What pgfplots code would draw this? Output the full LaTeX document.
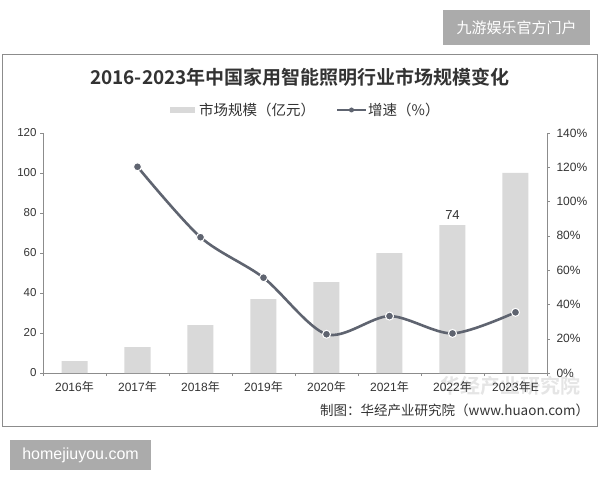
\documentclass[border=0pt]{standalone}
\usepackage{pgfplots}
\pgfplotsset{compat=1.18}
\usepackage{fontspec}
\setmainfont{Liberation Sans}
\newfontfamily\cjk{Noto Sans CJK SC}
\newfontfamily\cjkbold{Noto Sans CJK SC Bold}
\definecolor{barc}{HTML}{D9D9D9}
\definecolor{linec}{HTML}{5F6470}
\definecolor{axc}{HTML}{8C8C8C}
\definecolor{txt}{HTML}{333333}
\begin{document}
\begin{tikzpicture}[x=1pt,y=1pt]
\useasboundingbox (0,0) rectangle (600,480);
\fill[white] (0,0) rectangle (600,480);
% frame
\draw[black!45, line width=1pt] (2,54) rectangle (597,425);
% top-right badge
\fill[black!33] (443,435) rectangle (590,470);
\node[white] at (516.5,452.5) {\cjk\fontsize{15}{15}\selectfont 九游娱乐官方门户};
% bottom-left badge
\fill[black!33] (10,10) rectangle (151,40);
\node[white] at (80.5,25) {\fontsize{16}{16}\selectfont homejiuyou.com};
% title
\node[txt] at (300,403) {\cjkbold\fontsize{19}{19}\selectfont 2016-2023年中国家用智能照明行业市场规模变化};
% legend
\fill[barc] (170,367) rectangle (195,373);
\node[anchor=west, txt, inner sep=0] at (199,370) {\cjk\fontsize{14.5}{14.5}\selectfont 市场规模（亿元）};
\draw[linec, line width=2pt] (337,370) -- (366,370);
\fill[linec] (351.5,370) circle (2.5);
\node[anchor=west, txt, inner sep=0] at (368,370) {\cjk\fontsize{14.5}{14.5}\selectfont 增速（\%）};
% faint watermark
\node[black!10] at (510,94) {\cjkbold\fontsize{20}{20}\selectfont 华经产业研究院};
% footer
\node[anchor=west, txt, inner sep=0] at (320,70) {\cjk\fontsize{13.5}{13.5}\selectfont 制图：华经产业研究院（www.huaon.com）};

\begin{axis}[
  at={(43pt,107pt)}, anchor=south west,
  scale only axis, width=504pt, height=240pt,
  xmin=-0.5, xmax=7.5, ymin=0, ymax=120,
  axis y line*=left, axis x line*=bottom,
  axis line style={axc, line width=0.8pt},
  ytick={0,20,...,120},
  xtick={0,...,7},
  xticklabels={{2016\cjk 年},{2017\cjk 年},{2018\cjk 年},{2019\cjk 年},{2020\cjk 年},{2021\cjk 年},{2022\cjk 年},{2023\cjk 年\normalfont E}},
  major x tick style={draw=none},
  minor xtick={-0.5,0.5,...,7.5},
  minor x tick style={axc},
  tick align=outside,
  major tick length=3pt, minor tick length=3pt,
  y tick style={axc},
  tick label style={txt, font=\fontsize{11.5}{12}\selectfont},
  xticklabel style={font=\fontsize{12}{12}\selectfont, yshift=-2pt},
  /pgf/number format/assume math mode=true,
  ybar, bar width=26pt,
  clip=false,
]
\addplot[fill=barc, draw=none] coordinates {(0,6) (1,13) (2,24) (3,37) (4,45.5) (5,60) (6,74) (7,100)};
\node[txt, above, font=\fontsize{13}{13}\selectfont] at (axis cs:6,75) {74};
\end{axis}

\begin{axis}[
  at={(43pt,107pt)}, anchor=south west,
  scale only axis, width=504pt, height=240pt,
  xmin=-0.5, xmax=7.5, ymin=0, ymax=140,
  axis y line*=right, axis x line=none,
  axis line style={axc, line width=0.8pt},
  ytick={0,20,...,140},
  yticklabel={\pgfmathprintnumber{\tick}\%},
  tick align=outside, major tick length=3pt,
  y tick style={axc},
  tick label style={txt, font=\fontsize{12}{12}\selectfont},
  yticklabel style={xshift=3pt},
  /pgf/number format/assume math mode=true,
  clip=false,
]
\addplot[linec, line width=2.6pt, smooth, tension=0.5,
  mark=*, mark size=4pt, mark options={fill=linec, draw=white, line width=1pt}]
  coordinates {(1,120.3) (2,79.2) (3,55.6) (4,22.6) (5,33.2) (6,23.1) (7,35.4)};
\end{axis}
\end{tikzpicture}
\end{document}
